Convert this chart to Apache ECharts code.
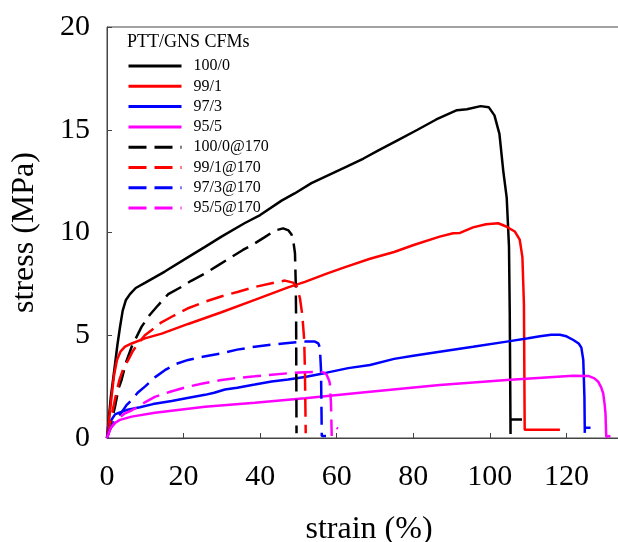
<!DOCTYPE html>
<html>
<head>
<meta charset="utf-8">
<script src="https://cdn.jsdelivr.net/npm/echarts@6/dist/echarts.min.js"></script>
<style>
  html, body { margin: 0; padding: 0; background: #ffffff; }
  #chart { width: 618px; height: 542px; }
</style>
</head>
<body>
<div id="chart"></div>
<script>
// Stress–strain curves of PTT/GNS composite films, as cast and annealed at 170 °C.
const legendTitle = 'PTT/GNS CFMs';
const seriesNames = ['100/0', '99/1', '97/3', '95/5', '100/0@170', '99/1@170', '97/3@170', '95/5@170'];
const seriesColors = ['#000000', '#ff0000', '#0000ff', '#ff00ff', '#000000', '#ff0000', '#0000ff', '#ff00ff'];
const seriesDashed = [false, false, false, false, true, true, true, true];
const xTicks = [0, 20, 40, 60, 80, 100, 120, 140];
const yTicks = [0, 5, 10, 15, 20];

// [strain %, stress MPa]
const s100_0 = [[0,0],[1.0,2.0],[1.9,3.3],[2.7,4.5],[3.4,5.4],[4.1,6.2],[4.9,6.7],[6.0,7.0],[7.5,7.3],[9.9,7.55],
  [15.1,8.1],[21.2,8.8],[25.6,9.3],[29.9,9.8],[35.9,10.45],[40,10.85],[45.6,11.55],[49,11.9],[53.4,12.4],[58,12.8],
  [62.6,13.2],[67,13.6],[70.9,14.0],[76,14.5],[81.1,15.0],[86,15.5],[91.4,15.95],[94,16.0],[97.6,16.15],[99.7,16.1],
  [101.2,15.7],[102.5,14.8],[103.5,13.0],[104.4,11.7],[105.0,9.3],[105.2,6.0],[105.4,0.2],[105.4,0.9],[108.4,0.9]];
const s99_1 = [[0,0],[0.9,1.5],[1.8,3.0],[2.6,3.8],[3.5,4.2],[4.7,4.45],[6.45,4.6],[9.9,4.85],[14.3,5.08],[21.2,5.55],
  [29.9,6.12],[38.6,6.72],[44,7.1],[47.3,7.33],[51.7,7.6],[57.4,8.0],[62,8.3],[68.7,8.72],[75,9.05],[80.1,9.39],
  [86.9,9.8],[90.4,9.96],[92.2,9.98],[95.6,10.25],[99,10.4],[102.2,10.45],[104.4,10.28],[106.5,10.05],[107.8,9.65],
  [108.5,8.8],[108.9,6.5],[109.1,0.4],[113,0.4],[118.3,0.4]];
const s97_3 = [[0,0],[0.5,0.6],[1.22,0.9],[2.1,1.15],[3.0,1.22],[5.1,1.36],[8.6,1.5],[12,1.65],[16.9,1.8],[21,1.95],
  [25.6,2.1],[28,2.2],[30.8,2.36],[34,2.45],[38.6,2.6],[43,2.75],[47.3,2.85],[51.7,2.97],[57.4,3.18],[63,3.4],
  [68.7,3.55],[75,3.85],[80,4.0],[86.9,4.2],[95.6,4.44],[104.4,4.69],[110,4.85],[113.1,4.95],[116,5.02],[118.3,5.02],
  [120,4.95],[121.7,4.78],[123.2,4.6],[123.9,4.4],[124.4,3.8],[124.7,2.0],[124.8,0.25],[124.8,0.5],[126.3,0.5]];
const s95_5 = [[0,0],[0.6,0.35],[1.22,0.55],[2.2,0.75],[3.39,0.88],[6.45,1.04],[12.5,1.23],[25.6,1.52],[38.6,1.72],
  [51.7,1.93],[68.7,2.25],[86.9,2.58],[104.4,2.82],[121.7,3.03],[125.7,3.02],[127.3,2.9],[128.3,2.74],[129.1,2.45],
  [129.6,2.17],[130.0,1.6],[130.2,1.2],[130.4,0.06],[131.5,0.1]];
const s100_0a = [[0,0],[1.0,0.7],[2.09,1.52],[3.0,2.4],[3.8,2.82],[5.0,3.7],[6.45,4.44],[9.05,5.42],[11.2,6.0],[13.4,6.47],
  [16,7.0],[19.5,7.36],[22,7.65],[25.6,8.01],[29,8.4],[32.6,8.82],[35.5,9.15],[38.6,9.47],[41,9.75],[43.9,10.1],
  [46.0,10.2],[47.4,10.1],[48.2,9.9],[48.8,9.4],[49.1,8.99],[49.3,7.5],[49.4,5.74],[49.5,0.23]];
const s99_1a = [[0,0],[1.0,0.9],[2.1,1.9],[3.2,2.8],[4.3,3.4],[5.56,3.8],[6.8,4.25],[8.17,4.61],[9.9,5.0],[11.7,5.26],
  [14,5.6],[16.9,5.9],[21,6.3],[25.6,6.63],[30,6.9],[34.3,7.12],[38.6,7.35],[43.0,7.53],[46.5,7.66],[48.6,7.56],
  [49.5,7.4],[50.4,6.8],[51.0,6.0],[51.5,4.8],[51.7,3.3],[51.9,0.23]];
const s97_3a = [[0,0],[0.6,0.35],[1.22,0.6],[2.5,0.95],[3.84,1.25],[5.1,1.6],[6.45,1.85],[8,2.2],[9.9,2.5],[12.5,2.95],
  [15.1,3.3],[18,3.6],[21.2,3.8],[25,3.95],[29.9,4.12],[34,4.3],[38.6,4.44],[43,4.55],[47.3,4.62],[51.7,4.69],
  [54.3,4.69],[55.2,4.6],[55.6,4.4],[55.9,3.3],[56.1,0.1],[57.2,0.1]];
const s95_5a = [[0,0],[1.0,0.5],[2.09,0.75],[3.3,1.0],[4.7,1.2],[6.5,1.35],[8.17,1.52],[10,1.75],[12.5,2.0],[16.5,2.25],
  [21.2,2.5],[25,2.65],[29.9,2.82],[34,2.92],[38.6,3.0],[43,3.08],[47.3,3.15],[51.7,3.2],[55.6,3.23],[56.7,3.18],
  [57.4,3.07],[58.0,2.8],[58.2,2.66],[58.5,1.69],[58.7,0.1],[59.4,'-'],[60.0,0.5],[60.3,0.45]];
const seriesData = [s100_0, s99_1, s97_3, s95_5, s100_0a, s99_1a, s97_3a, s95_5a];

const serif = '"Liberation Serif", "Times New Roman", serif';
const axisGray = '#444444';

const chart = echarts.init(document.getElementById('chart'), null, { renderer: 'canvas' });

const series = seriesNames.map((name, i) => ({
  name: name,
  type: 'line',
  data: seriesData[i],
  showSymbol: false,
  symbol: 'none',
  smooth: false,
  color: seriesColors[i],
  lineStyle: {
    color: seriesColors[i],
    width: 2.5,
    type: seriesDashed[i] ? [18, 8] : 'solid',
    cap: 'butt'
  },
  emphasis: { disabled: true },
  animation: false
}));

chart.setOption({
  backgroundColor: '#ffffff',
  animation: false,
  title: {
    text: legendTitle,
    left: 127,
    top: 33,
    padding: 0,
    textStyle: { fontFamily: serif, fontSize: 18, fontWeight: 'normal', color: '#000' }
  },
  legend: {
    orient: 'vertical',
    left: 127,
    top: 58,
    padding: 0,
    itemWidth: 53,
    itemHeight: 14,
    itemGap: 4.3,
    data: seriesNames,
    textStyle: { fontFamily: serif, fontSize: 16, color: '#000', lineHeight: 14, padding: [0, 0, 0, 7] },
    lineStyle: { width: 3 },
    itemStyle: { opacity: 0, borderWidth: 0 }
  },
  grid: {
    left: 107, top: 27, width: 536, height: 411,
    containLabel: false,
    outerBoundsMode: 'none',
    show: true, borderColor: axisGray, borderWidth: 1, backgroundColor: 'transparent'
  },
  xAxis: {
    type: 'value',
    min: xTicks[0], max: xTicks[xTicks.length - 1], interval: 20,
    name: 'strain (%)',
    nameLocation: 'middle',
    nameGap: 76,
    nameTextStyle: { fontFamily: serif, fontSize: 32, color: '#000', padding: [0, 12, 0, 0] },
    axisLine: { show: true, lineStyle: { color: axisGray, width: 1 } },
    axisTick: { show: true, inside: true, length: 5, lineStyle: { color: axisGray } },
    axisLabel: { fontFamily: serif, fontSize: 30, color: '#000', margin: 24 },
    splitLine: { show: false }
  },
  yAxis: {
    type: 'value',
    min: yTicks[0], max: yTicks[yTicks.length - 1], interval: 5,
    name: 'stress (MPa)',
    nameLocation: 'middle',
    nameGap: 66,
    nameTextStyle: { fontFamily: serif, fontSize: 32, color: '#000' },
    axisLine: { show: true, lineStyle: { color: axisGray, width: 1 } },
    axisTick: { show: true, inside: true, length: 5, lineStyle: { color: axisGray } },
    axisLabel: { fontFamily: serif, fontSize: 30, color: '#000', margin: 17 },
    splitLine: { show: false }
  },
  series: series
});
</script>
</body>
</html>
